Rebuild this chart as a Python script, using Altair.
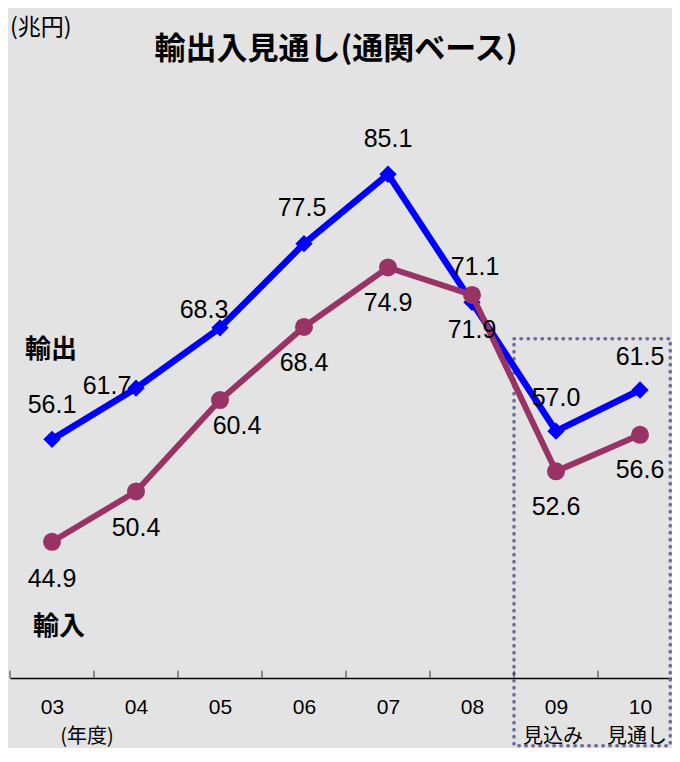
import altair as alt
import pandas as pd

# ---- data ----
years = ["03", "04", "05", "06", "07", "08", "09", "10"]
sub_labels = ["", "", "", "", "", "", "見込み", "見通し"]
exports = [56.1, 61.7, 68.3, 77.5, 85.1, 71.1, 57.0, 61.5]
imports = [44.9, 50.4, 60.4, 68.4, 74.9, 71.9, 52.6, 56.6]
# label offsets (pixels) for each point's value label
export_dx = [0, -29, -16, -2, 0, 3, 0, 0]
export_dy = [-34, -2, -18, -36, -35, -35, -33, -33]
import_dx = [0, 0, 17, 0, 0, 0, 0, 0]
import_dy = [37, 37, 26, 36, 36, 35, 36, 35]
# forecast box (x in year-index units, y in 兆円)
box_x = [5.5, 7.36]
box_y = [22.6, 67.1]

BLUE = "#0000ff"
PLUM = "#993366"
BG = "#e3e3e3"
NUM_FONT = "Liberation Sans"
JP_FONT = "Noto Sans CJK JP"

idx = list(range(len(years)))
exp_df = pd.DataFrame({"x": idx, "y": exports, "dx": export_dx, "dy": export_dy})
imp_df = pd.DataFrame({"x": idx, "y": imports, "dx": import_dx, "dy": import_dy})
tick_x = [i - 0.5 for i in idx] + [len(years) - 0.5]
tick_df = pd.DataFrame({"x": tick_x, "y": [30.0] * len(tick_x), "y2": [30.8] * len(tick_x)})
box_df = pd.DataFrame({"x": [box_x[0]], "x2": [box_x[1]], "y": [box_y[0]], "y2": [box_y[1]]})
sub_df = pd.DataFrame({"x": idx, "t": sub_labels})
sub_df = sub_df[sub_df["t"] != ""]

label_expr = "[" + ",".join(f"'{yv}'" for yv in years) + "][datum.value]"

x_enc = alt.X(
    "x:Q",
    scale=alt.Scale(domain=[-0.5, len(years) - 0.5], range=[0, 672], nice=False, zero=False),
    axis=alt.Axis(
        values=idx, title=None, grid=False, ticks=False,
        domain=True, domainColor="#000000", domainWidth=1.5,
        labelExpr=label_expr, labelFont=NUM_FONT,
        labelFontSize=21, labelColor="#000000", labelPadding=18,
        labelFlush=False, labelOverlap=False,
    ),
)
y_enc = alt.Y("y:Q", scale=alt.Scale(domain=[30, 100], nice=False, zero=False), axis=None)

box = alt.Chart(box_df).mark_rect(
    fillOpacity=0, stroke="#6b6b9e", strokeWidth=3.5,
    strokeDash=[0.5, 6.5], strokeCap="round",
).encode(x=x_enc, x2="x2:Q", y=y_enc, y2="y2:Q")

ticks = alt.Chart(tick_df).mark_rule(color="#333333", strokeWidth=1).encode(
    x=x_enc, y=y_enc, y2="y2:Q"
)

exp_line = alt.Chart(exp_df).mark_line(color=BLUE, strokeWidth=6.5).encode(x=x_enc, y=y_enc)
exp_pts = alt.Chart(exp_df).mark_point(
    shape="diamond", filled=True, size=300, color=BLUE, opacity=1
).encode(x=x_enc, y=y_enc)
imp_line = alt.Chart(imp_df).mark_line(color=PLUM, strokeWidth=6).encode(x=x_enc, y=y_enc)
imp_pts = alt.Chart(imp_df).mark_point(
    shape="circle", filled=True, size=324, color=PLUM, opacity=1
).encode(x=x_enc, y=y_enc)

labels = []
for df in (exp_df, imp_df):
    for i in idx:
        row = df.iloc[i]
        labels.append(
            alt.Chart(df).transform_filter(f"datum.x == {i}").mark_text(
                font=NUM_FONT, fontSize=25, color="#000000",
                align="center", baseline="middle",
                dx=int(row["dx"]), dy=int(row["dy"]),
            ).encode(x=x_enc, y=y_enc, text=alt.Text("y:Q", format=".1f"))
        )

sub_text = alt.Chart(sub_df).mark_text(
    font=JP_FONT, fontSize=20, color="#000000", align="center", baseline="middle", dx=-3
).encode(x=x_enc, y=alt.value(699), text="t:N")


def note(txt, px, py, size, bold=False, align="left"):
    return alt.Chart(pd.DataFrame({"t": [txt]})).mark_text(
        font=JP_FONT, fontSize=size, fontWeight="bold" if bold else "normal",
        color="#000000", align=align, baseline="middle",
    ).encode(x=alt.value(px), y=alt.value(py), text="t:N")


notes = [
    note("(兆円)", 0, -10, 23),
    note("輸出入見通し(通関ベース)", 326, 12, 31, bold=True, align="center"),
    note("輸出", 15, 312, 26, bold=True),
    note("輸入", 23, 589, 26, bold=True),
    note("(年度)", 77, 699, 20, align="center"),
]

chart = alt.layer(
    box, ticks, exp_line, exp_pts, imp_line, imp_pts, *labels, sub_text, *notes
).properties(
    width=662, height=640,
    autosize=alt.AutoSizeParams(type="none"),
    padding={"left": 2, "top": 30, "right": 0, "bottom": 70},
    background=BG,
).configure_view(strokeWidth=0)

chart.save("out.html", embed_options={"renderer": "svg", "actions": False})
